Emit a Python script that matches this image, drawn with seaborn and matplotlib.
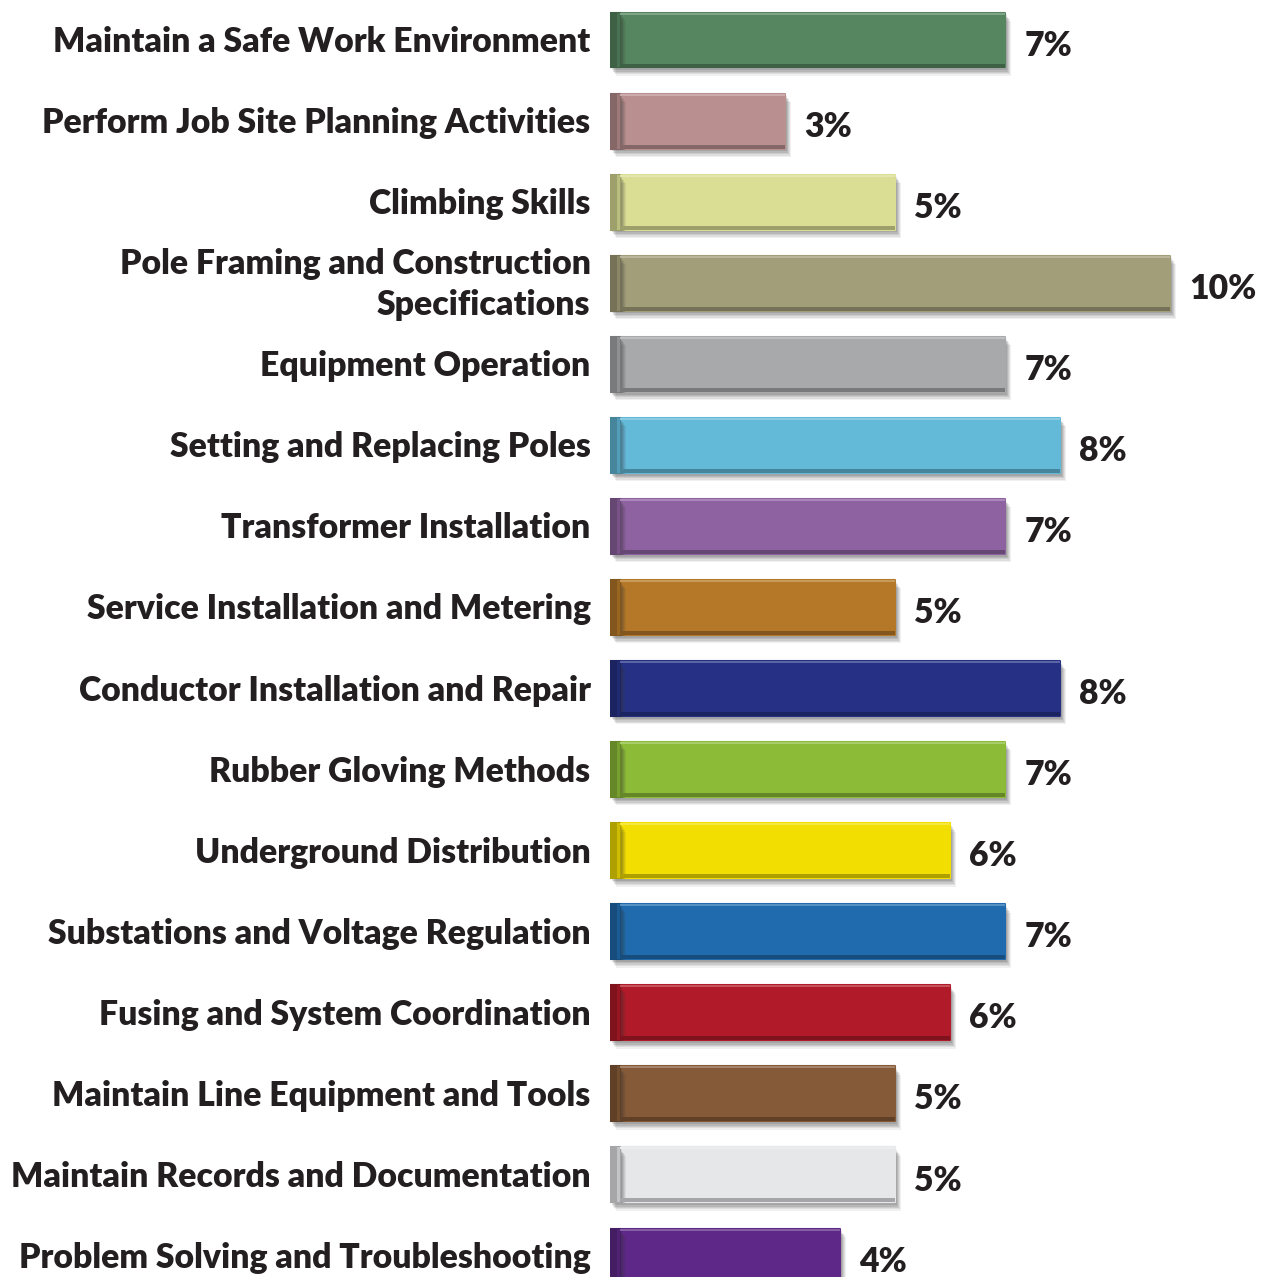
import matplotlib
matplotlib.use("Agg")
import matplotlib.pyplot as plt
import matplotlib.patheffects as pe
from matplotlib.patches import Rectangle
import matplotlib.colors as mcolors
import matplotlib.transforms as mtransforms
import seaborn as sns
import pandas as pd

categories = [
    "Maintain a Safe Work Environment",
    "Perform Job Site Planning Activities",
    "Climbing Skills",
    "Pole Framing and Construction\nSpecifications",
    "Equipment Operation",
    "Setting and Replacing Poles",
    "Transformer Installation",
    "Service Installation and Metering",
    "Conductor Installation and Repair",
    "Rubber Gloving Methods",
    "Underground Distribution",
    "Substations and Voltage Regulation",
    "Fusing and System Coordination",
    "Maintain Line Equipment and Tools",
    "Maintain Records and Documentation",
    "Problem Solving and Troubleshooting",
]
values = [7, 3, 5, 10, 7, 8, 7, 5, 8, 7, 6, 7, 6, 5, 5, 4]
value_labels = [f"{v}%" for v in values]
colors = [
    "#568660", "#B98F8F", "#DADE94", "#A39E7A", "#A8A9AB", "#63B9D8",
    "#8E62A0", "#B47828", "#263185", "#8CBB38", "#F2DE00", "#1F6BAD",
    "#B11A28", "#855A38", "#E6E7E9", "#5E2888",
]

df = pd.DataFrame({"category": categories, "value": values})

W, H, DPI = 1264, 1277, 100
fig = plt.figure(figsize=(W / DPI, H / DPI), dpi=DPI)
sns.set_style("white")
plt.rcParams["font.family"] = ["Lato", "DejaVu Sans"]

ax_left = 610
ax = fig.add_axes([ax_left / W, 0, 1 - ax_left / W, 1])

px_per_unit = 55.0
cap_px = 10.0
row_px = 81.07
bar_px = 55.0
first_center = 40.0
FS = 24.3
WEIGHT = "heavy"
TXT = "#231F20"

sns.barplot(data=df, y="category", x="value", hue="category", palette=colors,
            order=categories, hue_order=categories, orient="h",
            width=bar_px / row_px, dodge=False, legend=False, ax=ax,
            saturation=1, edgecolor="none", linewidth=0)

x0 = -cap_px / px_per_unit
ax.set_xlim(x0, x0 + (W - ax_left) / px_per_unit)
top = -first_center / row_px
ax.set_ylim(top + H / row_px, top)

cap_w = cap_px / px_per_unit
strip_h = 4.0 / row_px
hl_h = 2.0 / row_px

def shadow_effects():
    effs = []
    for k, a in [(6, 0.07), (5, 0.09), (4, 0.11), (3, 0.13), (2, 0.13)]:
        effs.append(pe.SimplePatchShadow(offset=(k * 0.75, -k), shadow_rgbFace="#333333", alpha=a))
    effs.append(pe.Normal())
    return effs

for i, (cont, col) in enumerate(zip(ax.containers, colors)):
    rgb = mcolors.to_rgb(col)
    dark = tuple(c * 0.72 for c in rgb)
    light = tuple(min(1, c + (1 - c) * 0.25) for c in rgb)
    for bar in cont:
        y = bar.get_y()
        h = bar.get_height()
        w = bar.get_width()
        bar.set_path_effects(shadow_effects())
        bar.set_edgecolor(col)
        bar.set_linewidth(1.5)
        bar.set_joinstyle("round")
        bar.set_zorder(2)
        capr = Rectangle((bar.get_x() - cap_w, y), cap_w, h, facecolor=dark,
                         edgecolor=dark, linewidth=1.5, joinstyle="round", zorder=3)
        capr.set_path_effects(shadow_effects())
        ax.add_patch(capr)
        ax.add_patch(Rectangle((bar.get_x() - cap_w * 0.3, y), cap_w * 0.3, h,
                               facecolor=tuple(c * 0.85 for c in rgb), edgecolor="none", zorder=3))
        ax.add_patch(Rectangle((bar.get_x(), y + h - strip_h), w, strip_h,
                               facecolor=dark, edgecolor="none", zorder=3))
        ax.add_patch(Rectangle((bar.get_x(), y), w, hl_h,
                               facecolor=light, edgecolor="none", zorder=3))
    anns = ax.bar_label(cont, labels=[value_labels[i]], padding=14,
                        fontsize=FS, fontweight=WEIGHT, color=TXT)
    for a in anns:
        a.xyann = (14, -4)

ax.set_xlabel("")
ax.set_ylabel("")
ax.set_xticks([])
ax.tick_params(axis="y", length=0, pad=14)
for lab in ax.get_yticklabels():
    lab.set_fontsize(FS)
    lab.set_fontweight(WEIGHT)
    lab.set_color(TXT)
    lab.set_multialignment("right")
    lab.set_linespacing(1.35)
    dy = 6 if "\n" in lab.get_text() else 1
    lab.set_transform(lab.get_transform() +
                      mtransforms.ScaledTranslation(0, dy / DPI, fig.dpi_scale_trans))
sns.despine(ax=ax, left=True, bottom=True)

fig.savefig("out.png", dpi=DPI)
